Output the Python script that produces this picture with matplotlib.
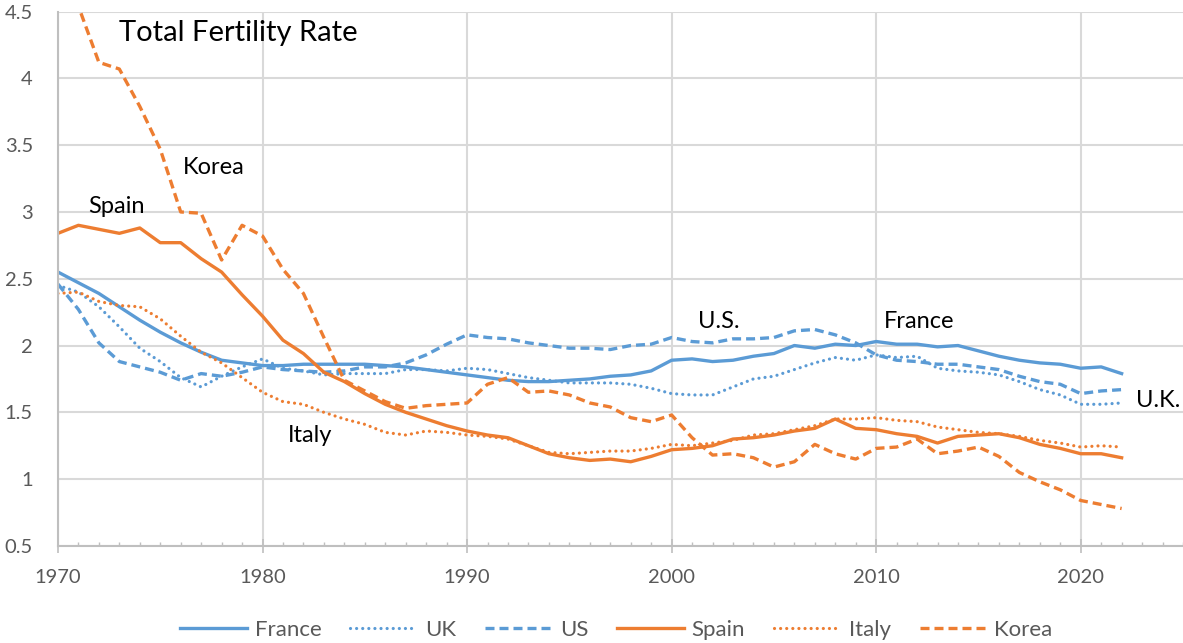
import matplotlib
matplotlib.use("Agg")
import matplotlib.pyplot as plt
from matplotlib.ticker import MultipleLocator, FuncFormatter

plt.rcParams['font.family'] = ['Lato', 'DejaVu Sans']

# Total fertility rate, 1970-2022
years = list(range(1970, 2023))

france = [2.55, 2.47, 2.39, 2.29, 2.19, 2.10, 2.02, 1.95, 1.89, 1.87,
          1.85, 1.85, 1.86, 1.86, 1.86, 1.86, 1.85, 1.84, 1.82, 1.80,
          1.78, 1.76, 1.74, 1.73, 1.73, 1.74, 1.75, 1.77, 1.78, 1.81,
          1.89, 1.90, 1.88, 1.89, 1.92, 1.94, 2.00, 1.98, 2.01, 2.00,
          2.03, 2.01, 2.01, 1.99, 2.00, 1.96, 1.92, 1.89, 1.87, 1.86,
          1.83, 1.84, 1.79]

uk = [2.45, 2.40, 2.29, 2.14, 1.98, 1.88, 1.76, 1.69, 1.77, 1.84,
      1.90, 1.83, 1.81, 1.78, 1.79, 1.79, 1.79, 1.82, 1.82, 1.81,
      1.83, 1.82, 1.79, 1.76, 1.74, 1.72, 1.72, 1.72, 1.71, 1.68,
      1.64, 1.63, 1.63, 1.69, 1.75, 1.77, 1.82, 1.87, 1.91, 1.89,
      1.93, 1.91, 1.92, 1.83, 1.81, 1.80, 1.78, 1.73, 1.67, 1.63,
      1.56, 1.56, 1.57]

us = [2.46, 2.27, 2.02, 1.88, 1.84, 1.80, 1.74, 1.79, 1.77, 1.80,
      1.84, 1.82, 1.81, 1.80, 1.81, 1.84, 1.84, 1.87, 1.93, 2.01,
      2.08, 2.06, 2.05, 2.02, 2.00, 1.98, 1.98, 1.97, 2.00, 2.01,
      2.06, 2.03, 2.02, 2.05, 2.05, 2.06, 2.11, 2.12, 2.08, 2.02,
      1.93, 1.89, 1.88, 1.86, 1.86, 1.84, 1.82, 1.77, 1.73, 1.71,
      1.64, 1.66, 1.67]

spain = [2.84, 2.90, 2.87, 2.84, 2.88, 2.77, 2.77, 2.65, 2.55, 2.38,
         2.22, 2.04, 1.94, 1.80, 1.73, 1.64, 1.56, 1.50, 1.45, 1.40,
         1.36, 1.33, 1.31, 1.25, 1.19, 1.16, 1.14, 1.15, 1.13, 1.17,
         1.22, 1.23, 1.25, 1.30, 1.31, 1.33, 1.36, 1.38, 1.45, 1.38,
         1.37, 1.34, 1.32, 1.27, 1.32, 1.33, 1.34, 1.31, 1.26, 1.23,
         1.19, 1.19, 1.16]

italy = [2.39, 2.40, 2.33, 2.30, 2.29, 2.20, 2.07, 1.95, 1.87, 1.76,
         1.65, 1.58, 1.56, 1.50, 1.45, 1.41, 1.35, 1.33, 1.36, 1.35,
         1.33, 1.32, 1.30, 1.25, 1.20, 1.19, 1.20, 1.21, 1.21, 1.23,
         1.26, 1.25, 1.27, 1.29, 1.33, 1.34, 1.37, 1.40, 1.45, 1.45,
         1.46, 1.44, 1.43, 1.39, 1.37, 1.35, 1.34, 1.32, 1.29, 1.27,
         1.24, 1.25, 1.24]

korea = [4.53, 4.54, 4.12, 4.07, 3.79, 3.47, 3.00, 2.99, 2.64, 2.90,
         2.82, 2.57, 2.39, 2.06, 1.74, 1.66, 1.58, 1.53, 1.55, 1.56,
         1.57, 1.71, 1.76, 1.65, 1.66, 1.63, 1.57, 1.54, 1.46, 1.43,
         1.48, 1.31, 1.18, 1.19, 1.16, 1.09, 1.13, 1.26, 1.19, 1.15,
         1.23, 1.24, 1.30, 1.19, 1.21, 1.24, 1.17, 1.05, 0.98, 0.92,
         0.84, 0.81, 0.78]

BLUE = "#5B9BD5"
ORANGE = "#ED7D31"
GRID = "#D9D9D9"
AXIS = "#BFBFBF"
TEXT = "#595959"

fig = plt.figure(figsize=(11.83, 6.43), dpi=100)
ax = fig.add_axes([0.049, 0.151, 0.951, 0.831])

lw = 2.4
dot = dict(linestyle=(0, (0.01, 1.9)), dash_capstyle='round', linewidth=2.3)
dash = dict(linestyle=(0, (2.7, 1.5)), linewidth=lw)

ax.plot(years, france, color=BLUE, linewidth=lw, label="France")
ax.plot(years, uk, color=BLUE, label="UK", **dot)
ax.plot(years, us, color=BLUE, label="US", **dash)
ax.plot(years, spain, color=ORANGE, linewidth=lw, label="Spain")
ax.plot(years, italy, color=ORANGE, label="Italy", **dot)
ax.plot(years, korea, color=ORANGE, label="Korea", **dash)

ax.set_xlim(1970, 2025)
ax.set_ylim(0.5, 4.5)
ax.xaxis.set_major_locator(MultipleLocator(10))
ax.xaxis.set_minor_locator(MultipleLocator(1))
ax.yaxis.set_major_locator(MultipleLocator(0.5))
ax.yaxis.set_major_formatter(FuncFormatter(lambda v, p: f"{v:g}"))

ax.grid(True, which='major', color=GRID, linewidth=1.5)
ax.set_axisbelow(True)

for s in ["top", "right"]:
    ax.spines[s].set_visible(False)
ax.spines["left"].set_color(AXIS)
ax.spines["bottom"].set_color(AXIS)
ax.spines["left"].set_linewidth(1.5)
ax.spines["bottom"].set_linewidth(1.5)

ax.tick_params(axis='x', which='major', direction='inout', length=9.5,
               width=1.2, color=AXIS, labelsize=14.5, labelcolor=TEXT, pad=12)
ax.tick_params(axis='x', which='minor', direction='in', length=3,
               width=1.0, color=AXIS)
ax.tick_params(axis='y', which='major', length=0, labelsize=14.5,
               labelcolor=TEXT, pad=18)

ax.text(1973.0, 4.34, "Total Fertility Rate", fontsize=21, va='center', ha='left')
ax.text(1976.1, 3.33, "Korea", fontsize=17, va='center', ha='left')
ax.text(1971.5, 3.04, "Spain", fontsize=17, va='center', ha='left')
ax.text(1981.25, 1.33, "Italy", fontsize=17, va='center', ha='left')
ax.text(2001.3, 2.18, "U.S.", fontsize=17, va='center', ha='left')
ax.text(2010.4, 2.18, "France", fontsize=17, va='center', ha='left')
ax.text(2022.7, 1.59, "U.K.", fontsize=17, va='center', ha='left')

fig.legend(loc='center', bbox_to_anchor=(0.521, 1 - 630 / 643), ncol=6,
           frameon=False, fontsize=16, handlelength=3.0, handletextpad=0.36,
           columnspacing=1.3, labelcolor=TEXT, borderaxespad=0)

fig.savefig("out.png", dpi=100)
